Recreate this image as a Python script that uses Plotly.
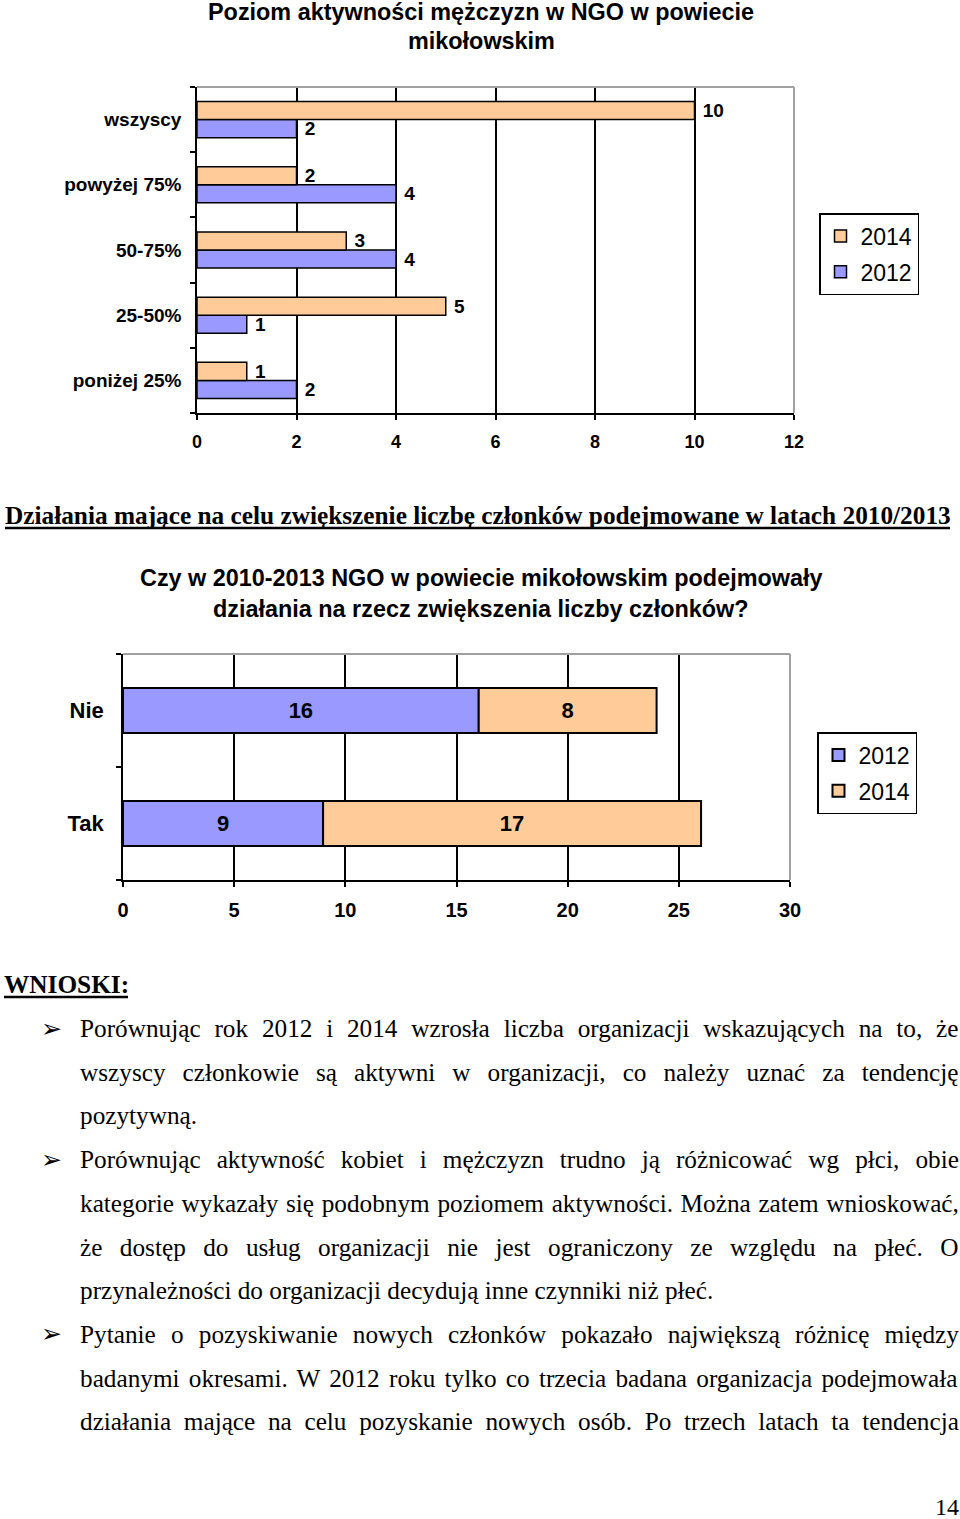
import plotly.graph_objects as go

W, H = 960, 1519
def px(x): return x / W
def py(y): return 1 - y / H

SANS = "Liberation Sans, Arial, sans-serif"
SERIF = "Liberation Serif, Times New Roman, serif"
BLUE = "#9999FF"
ORANGE = "#FFCC99"
GRAY = "#A0A0A0"

# ---------------- data ----------------
cats1 = ["poniżej 25%", "25-50%", "50-75%", "powyżej 75%", "wszyscy"]
act_2012 = [2, 1, 4, 4, 2]
act_2014 = [1, 5, 3, 2, 10]
ticks1 = [0, 2, 4, 6, 8, 10, 12]

cats2 = ["Tak", "Nie"]
rec_2012 = [9, 16]
rec_2014 = [17, 8]
ticks2 = [0, 5, 10, 15, 20, 25, 30]

title1 = ["Poziom aktywności mężczyzn w NGO w powiecie", "mikołowskim"]
title2 = ["Czy w 2010-2013 NGO w powiecie mikołowskim podejmowały",
          "działania na rzecz zwiększenia liczby członków?"]
heading = "Działania mające na celu zwiększenie liczbę członków podejmowane w latach 2010/2013"
wnioski = "WNIOSKI:"
body_lines = [
    ("Porównując rok 2012 i 2014 wzrosła liczba organizacji wskazujących na to, że", True, True),
    ("wszyscy członkowie są aktywni w organizacji, co należy uznać za tendencję", True, False),
    ("pozytywną.", False, False),
    ("Porównując aktywność kobiet i mężczyzn trudno ją różnicować wg płci, obie", True, True),
    ("kategorie wykazały się podobnym poziomem aktywności. Można zatem wnioskować,", True, False),
    ("że dostęp do usług organizacji nie jest ograniczony ze względu na płeć. O", True, False),
    ("przynależności do organizacji decydują inne czynniki niż płeć.", False, False),
    ("Pytanie o pozyskiwanie nowych członków pokazało największą różnicę między", True, True),
    ("badanymi okresami. W 2012 roku tylko co trzecia badana organizacja podejmowała", True, False),
    ("działania mające na celu pozyskanie nowych osób. Po trzech latach ta tendencja", True, False),
]
page_no = "14"

# Times advance widths (per 1000 em) for justification
TIMES = {' ': 250, ',': 250, '.': 250, 'a': 444, 'b': 500, 'c': 444, 'd': 500, 'e': 444,
         'f': 333, 'g': 500, 'h': 500, 'i': 278, 'j': 278, 'k': 500, 'l': 278, 'm': 778,
         'n': 500, 'o': 500, 'p': 500, 'q': 500, 'r': 333, 's': 389, 't': 278, 'u': 500,
         'v': 500, 'w': 722, 'x': 500, 'y': 500, 'z': 444, 'ą': 444, 'ć': 444, 'ę': 444,
         'ł': 278, 'ń': 500, 'ó': 500, 'ś': 389, 'ź': 444, 'ż': 444, 'P': 556, 'W': 944,
         'O': 722, 'M': 889}
def tw(s, size):
    return sum(TIMES.get(c, 500) for c in s) * size / 1000

fig = go.Figure()

lab_font1 = dict(family=SANS, size=19, color="black", weight="bold")
fig.add_trace(go.Bar(y=cats1, x=act_2012, orientation="h", name="2012",
                     marker=dict(color=BLUE, line=dict(color="black", width=1.5)),
                     text=act_2012, texttemplate="\u00a0%{text}", textposition="outside",
                     textfont=lab_font1, constraintext="none", cliponaxis=False,
                     xaxis="x", yaxis="y", legend="legend", legendgroup="a12", legendrank=2,
                     offsetgroup="g12", hoverinfo="skip"))
fig.add_trace(go.Bar(y=cats1, x=act_2014, orientation="h", name="2014",
                     marker=dict(color=ORANGE, line=dict(color="black", width=1.5)),
                     text=act_2014, texttemplate="\u00a0%{text}", textposition="outside",
                     textfont=lab_font1, constraintext="none", cliponaxis=False,
                     xaxis="x", yaxis="y", legend="legend", legendgroup="a14", legendrank=1,
                     offsetgroup="g14", hoverinfo="skip"))

lab_font2 = dict(family=SANS, size=22, color="black", weight="bold")
fig.add_trace(go.Bar(y=cats2, x=rec_2012, orientation="h", name="2012",
                     width=0.4, offset=-0.2, offsetgroup="s",
                     marker=dict(color=BLUE, line=dict(color="black", width=2)),
                     text=rec_2012, texttemplate="%{text}", textposition="inside",
                     insidetextanchor="middle", insidetextfont=lab_font2, constraintext="none",
                     xaxis="x2", yaxis="y2", legend="legend2", legendgroup="b12", legendrank=1,
                     hoverinfo="skip"))
fig.add_trace(go.Bar(y=cats2, x=rec_2014, base=rec_2012, orientation="h", name="2014",
                     width=0.4, offset=-0.2, offsetgroup="s",
                     marker=dict(color=ORANGE, line=dict(color="black", width=2)),
                     text=rec_2014, texttemplate="%{text}", textposition="inside",
                     insidetextanchor="middle", insidetextfont=lab_font2, constraintext="none",
                     xaxis="x2", yaxis="y2", legend="legend2", legendgroup="b14", legendrank=2,
                     hoverinfo="skip"))

def xax(domain, rng, tv, fsize, standoff):
    return dict(domain=domain, range=rng, tickvals=tv, showgrid=True, gridcolor="black",
                gridwidth=1.5, zeroline=False, showline=True, linecolor="black", linewidth=1.5,
                ticks="outside", ticklen=5, tickwidth=1.5, tickcolor="black",
                tickfont=dict(family=SANS, size=fsize, color="black", weight="bold"),
                ticklabelstandoff=standoff, fixedrange=True, automargin=False)

def yax(domain, cats, fsize, standoff):
    return dict(domain=domain, type="category", categoryorder="array", categoryarray=cats,
                tickson="boundaries", ticks="outside", ticklen=5, tickwidth=1.5,
                tickcolor="black", showgrid=False, zeroline=False, showline=True,
                linecolor="black", linewidth=1.5,
                tickfont=dict(family=SANS, size=fsize, color="black", weight="bold"),
                ticklabelstandoff=standoff, fixedrange=True, automargin=False)

xa1 = xax([px(197), px(794)], [0, 12], ticks1, 18, 7); xa1["anchor"] = "y"
ya1 = yax([py(413), py(87)], cats1, 19, 10); ya1["anchor"] = "x"
xa2 = xax([px(123), px(790)], [0, 30], ticks2, 20, 6); xa2["anchor"] = "y2"
ya2 = yax([py(880), py(654)], cats2, 22, 13); ya2["anchor"] = "x2"

shapes = []
for xr, yr in (("x domain", "y domain"), ("x2 domain", "y2 domain")):
    shapes.append(dict(type="line", xref=xr, yref=yr, x0=0, x1=1, y0=1, y1=1,
                       line=dict(color=GRAY, width=2), layer="above"))
    shapes.append(dict(type="line", xref=xr, yref=yr, x0=1, x1=1, y0=0, y1=1,
                       line=dict(color=GRAY, width=2), layer="above"))
# underlines
shapes.append(dict(type="line", xref="paper", yref="paper", x0=px(5), x1=px(950),
                   y0=py(528), y1=py(528), line=dict(color="black", width=2.5)))
shapes.append(dict(type="line", xref="paper", yref="paper", x0=px(4), x1=px(128),
                   y0=py(997), y1=py(997), line=dict(color="black", width=2.5)))

ann = []
def A(text, x, y, size, family=SANS, xanchor="center", weight="normal"):
    ann.append(dict(text=text, x=px(x), y=py(y), xref="paper", yref="paper",
                    xanchor=xanchor, yanchor="middle", showarrow=False,
                    font=dict(family=family, size=size, color="black", weight=weight)))

A(title1[0], 481, 12, 23.4, weight="bold")
A(title1[1], 481, 41, 23.4, weight="bold")
A(title2[0], 481, 578, 23.4, weight="bold")
A(title2[1], 481, 609, 23.4, weight="bold")
A(heading, 3, 515, 25.3, family=SERIF, xanchor="left", weight="bold")
A(wnioski, 2, 984, 25.3, family=SERIF, xanchor="left", weight="bold")

LEFT, RIGHT, BSIZE = 80, 959, 25.25
y0, dy = 1028, 43.7
for i, (line, just, bullet) in enumerate(body_lines):
    y = y0 + i * dy
    if just:
        ws = (RIGHT - LEFT - tw(line, BSIZE)) / line.count(" ")
        txt = f'<span style="word-spacing:{ws:.2f}px">{line}</span>'
    else:
        txt = line
    A(txt, LEFT - 2, y, BSIZE, family=SERIF, xanchor="left")
    if bullet:
        A("➢", 51, y, 25, family="DejaVu Sans")
A(page_no, 961, 1507, 24, family=SERIF, xanchor="right")

legend_common = dict(xanchor="left", yanchor="top", bordercolor="black", borderwidth=1.5,
                     bgcolor="white", font=dict(family=SANS, size=23, color="black"),
                     itemwidth=30, tracegroupgap=3, traceorder="grouped")

fig.update_layout(
    width=W, height=H, margin=dict(l=0, r=0, t=0, b=0, autoexpand=False),
    paper_bgcolor="white", plot_bgcolor="white",
    barmode="group", bargap=0.446, bargroupgap=0,
    xaxis=xa1, yaxis=ya1, xaxis2=xa2, yaxis2=ya2,
    shapes=shapes, annotations=ann,
    legend=dict(x=px(819), y=py(213), **legend_common),
    legend2=dict(x=px(817), y=py(732), **legend_common),
    showlegend=True,
)

fig.write_html("out.html")
